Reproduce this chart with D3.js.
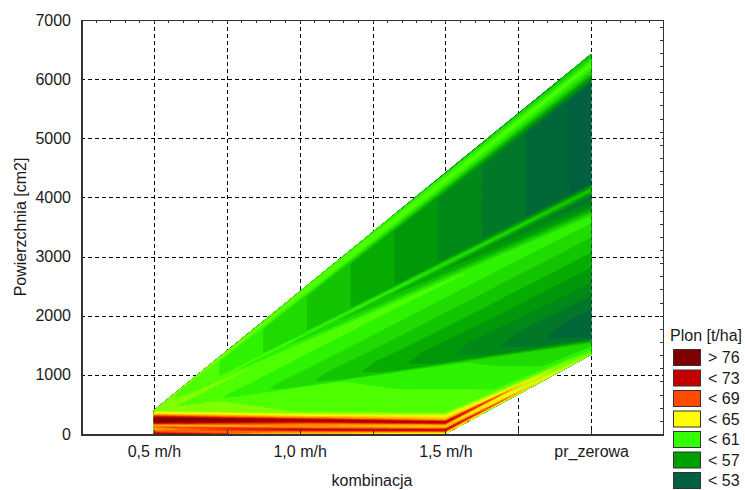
<!DOCTYPE html>
<html>
<head>
<meta charset="utf-8">
<title>Plon - kombinacja x powierzchnia</title>
<script src="https://cdn.jsdelivr.net/npm/d3@7"></script>
<style>
  body { margin: 0; background: #fff; }
  text { font-family: "Liberation Sans", Arial, sans-serif; font-size: 16px; fill: #1a1a1a; }
  .grid line { stroke: #000; stroke-dasharray: 4,3; shape-rendering: crispEdges; }
  .frame line { stroke: #333; shape-rendering: crispEdges; }
</style>
</head>
<body>
<svg id="chart" width="745" height="490"></svg>
<script>
// categories / ticks
var kombinacja = ["0,5 m/h", "1,0 m/h", "1,5 m/h", "pr_zerowa"];
var yTicks = [0, 1000, 2000, 3000, 4000, 5000, 6000, 7000];

// observations: powierzchnia [cm2] and plon [t/ha] for every kombinacja
var pow05 = [0, 30, 60, 85, 115, 150, 180, 215, 255, 290, 320, 355, 400];
var plon05 = [75, 68, 66, 64, 67, 64, 70, 77, 77, 71, 66, 63, 60.5];
var pow10 = [0, 40, 75, 110, 150, 190, 215, 245, 275, 320, 370];
var plon10 = [64, 66, 72, 66, 65, 68, 73, 72, 66, 63, 60];
var pow15 = [0, 35, 68, 100, 150, 197, 240, 300, 360];
var plon15 = [62, 65, 73, 65, 64, 73, 65, 63, 60];
var powZero = [1340, 1420, 1540, 1620, 1760, 2000, 2440, 2940, 3450, 3670, 3850, 4000, 4130, 4250, 4800, 5500, 5900, 6100, 6250, 6425];
var plonZero = [61, 59, 57, 52, 51, 51.5, 53.5, 55.5, 57.5, 58.5, 54, 52, 57, 50.5, 50.5, 50.5, 50.5, 57, 59.5, 56];

// legend
var legendLabels = ["> 76", "< 73", "< 69", "< 65", "< 61", "< 57", "< 53"];
var legendColors = ["#800000", "#c40000", "#ff4c00", "#ffff00", "#33ff00", "#00a000", "#006040"];
var colorStops = [75, 71, 67, 63, 59, 55, 51];
var levels = d3.range(44, 81, 1);

// how the surface is triangulated between the columns
var splitZero = 2;           // pr_zerowa point where the lower and upper fans meet
var fanStart = [0, 0, 0];    // where the tops of 1,5 / 1,0 / 0,5 m/h start their fans

var svg = d3.select("#chart");
var pL = 81, pR = 663, pT = 20, pB = 434;

var x = d3.scaleLinear().domain([-0.5, 3.5]).range([pL, 664]);
var y = d3.scaleLinear().domain([0, 7000]).range([pB, pT]);
var color = d3.scaleLinear().domain(colorStops).range(legendColors).clamp(true);

// grid
var grid = svg.append("g").attr("class", "grid");
grid.selectAll(".h").data(yTicks.slice(1, -1)).enter().append("line")
    .attr("x1", pL).attr("x2", pR)
    .attr("y1", function(d) { return Math.round(y(d)) + 0.5; })
    .attr("y2", function(d) { return Math.round(y(d)) + 0.5; });
grid.selectAll(".v").data(d3.range(0, 3.01, 0.5)).enter().append("line")
    .attr("y1", pT).attr("y2", pB)
    .attr("x1", function(d) { return Math.round(x(d)) + 0.5; })
    .attr("x2", function(d) { return Math.round(x(d)) + 0.5; });

// columns of points in screen space
var cols = [[0, pow05, plon05], [1, pow10, plon10], [2, pow15, plon15], [3, powZero, plonZero]].map(function(c) {
  return c[1].map(function(p, i) { return [x(c[0]), y(p), c[2][i]]; });
});
var pts = [].concat.apply([], cols);

function param(chain) {
  var a = chain[0][1], b = chain[chain.length - 1][1];
  return chain.map(function(p) { return (p[1] - a) / (b - a); });
}
var tris = [];
function strip(A, B, tA, tB) {
  var i = 0, j = 0;
  while (i < A.length - 1 || j < B.length - 1) {
    if (i < A.length - 1 && (j === B.length - 1 || tA[i + 1] <= tB[j + 1])) { tris.push([A[i], A[i + 1], B[j]]); i++; }
    else { tris.push([A[i], B[j], B[j + 1]]); j++; }
  }
}
strip(cols[0], cols[1], param(cols[0]), param(cols[1]));
strip(cols[1], cols[2], param(cols[1]), param(cols[2]));
var lower = cols[3].slice(0, splitZero + 1), upper = cols[3].slice(splitZero);
strip(cols[2], lower, param(cols[2]), param(lower));
var tops = [cols[2][cols[2].length - 1], cols[1][cols[1].length - 1], cols[0][cols[0].length - 1]];
strip(tops, upper, fanStart, param(upper));

var x0 = Math.floor(d3.min(pts, function(d) { return d[0]; })) - 1;
var x1 = Math.ceil(d3.max(pts, function(d) { return d[0]; })) + 1;
var y0 = Math.floor(d3.min(pts, function(d) { return d[1]; })) - 1;
var y1 = Math.ceil(d3.max(pts, function(d) { return d[1]; })) + 1;
var nx = x1 - x0, ny = y1 - y0;
var values = new Float64Array(nx * ny).fill(NaN);

// linear interpolation on the triangles
tris.forEach(function(tri) {
  var a = tri[0], b = tri[1], c = tri[2];
  var den = (b[1] - c[1]) * (a[0] - c[0]) + (c[0] - b[0]) * (a[1] - c[1]);
  if (Math.abs(den) < 1e-9) return;
  var i0 = Math.max(0, Math.floor(Math.min(a[0], b[0], c[0])) - x0 - 1);
  var i1 = Math.min(nx - 1, Math.ceil(Math.max(a[0], b[0], c[0])) - x0 + 1);
  var j0 = Math.max(0, Math.floor(Math.min(a[1], b[1], c[1])) - y0 - 1);
  var j1 = Math.min(ny - 1, Math.ceil(Math.max(a[1], b[1], c[1])) - y0 + 1);
  for (var j = j0; j <= j1; j++) {
    var py = y0 + j + 0.5;
    for (var i = i0; i <= i1; i++) {
      var px = x0 + i + 0.5;
      var w1 = ((b[1] - c[1]) * (px - c[0]) + (c[0] - b[0]) * (py - c[1])) / den;
      var w2 = ((c[1] - a[1]) * (px - c[0]) + (a[0] - c[0]) * (py - c[1])) / den;
      var w3 = 1 - w1 - w2;
      if (w1 >= -1e-6 && w2 >= -1e-6 && w3 >= -1e-6) values[j * nx + i] = w1 * a[2] + w2 * b[2] + w3 * c[2];
    }
  }
});
// outside the data: nearest point (hidden by the clip anyway)
var delaunay = d3.Delaunay.from(pts, function(d) { return d[0]; }, function(d) { return d[1]; });
var hint = 0;
for (var k = 0; k < values.length; k++) {
  if (isNaN(values[k])) {
    hint = delaunay.find(x0 + (k % nx) + 0.5, y0 + Math.floor(k / nx) + 0.5, hint);
    values[k] = pts[hint][2];
  }
}

var hull = d3.polygonHull(pts.map(function(p) { return [p[0], p[1]]; }));
svg.append("clipPath").attr("id", "hull").append("path")
    .attr("d", "M" + hull.map(function(p) { return p.join(","); }).join("L") + "Z");

var shift = d3.geoPath(d3.geoTransform({ point: function(px, py) { this.stream.point(x0 + px, y0 + py); } }));
var contours = d3.contours().size([nx, ny]).thresholds(levels)(values);

var area = svg.append("g").attr("clip-path", "url(#hull)");
area.append("rect").attr("x", x0).attr("y", y0).attr("width", nx).attr("height", ny)
    .attr("fill", color(levels[0] - 0.5));
area.selectAll("path").data(contours).enter().append("path")
    .attr("d", shift)
    .attr("fill", function(d) { return color(d.value + 0.5); });

// frame and ticks
var frame = svg.append("g").attr("class", "frame");
frame.append("line").attr("x1", pL + 0.5).attr("x2", pL + 0.5).attr("y1", pT).attr("y2", pB + 1).style("stroke-width", 2);
frame.append("line").attr("x1", pL).attr("x2", pR + 1).attr("y1", pB + 0.5).attr("y2", pB + 0.5).style("stroke-width", 2);
frame.append("line").attr("x1", pL).attr("x2", pR + 1).attr("y1", pT + 0.5).attr("y2", pT + 0.5);
frame.append("line").attr("x1", pR + 0.5).attr("x2", pR + 0.5).attr("y1", pT).attr("y2", pB + 1);
frame.selectAll(".tb").data(d3.range(-0.5, 3.45, 0.5)).enter().append("line")
    .attr("x1", function(d) { return Math.round(x(d)) + 0.5; }).attr("x2", function(d) { return Math.round(x(d)) + 0.5; })
    .attr("y1", pB).attr("y2", pB - 4);
frame.selectAll(".tt").data(d3.range(-0.4, 3.45, 0.1)).enter().append("line")
    .attr("x1", function(d) { return Math.round(x(d)) + 0.5; }).attr("x2", function(d) { return Math.round(x(d)) + 0.5; })
    .attr("y1", pT).attr("y2", pT + 3);
frame.selectAll(".tr").data(d3.range(2000 / 9, 7000, 2000 / 9)).enter().append("line")
    .attr("x1", pR).attr("x2", pR - 3)
    .attr("y1", function(d) { return Math.round(y(d)) + 0.5; }).attr("y2", function(d) { return Math.round(y(d)) + 0.5; });

// axis labels
var yAxis = svg.append("g").attr("transform", "translate(" + pL + ",0)")
    .call(d3.axisLeft(y).tickValues(yTicks).tickSize(0).tickPadding(10).tickFormat(d3.format("d")));
yAxis.select(".domain").remove();
var xAxis = svg.append("g").attr("transform", "translate(0," + pB + ")")
    .call(d3.axisBottom(x).tickValues([0, 1, 2, 3]).tickSize(0).tickPadding(12)
      .tickFormat(function(d) { return kombinacja[d]; }));
xAxis.select(".domain").remove();

svg.append("text").attr("x", (pL + pR) / 2).attr("y", 486).attr("text-anchor", "middle").text("kombinacja");
svg.append("text").attr("transform", "translate(26," + (pT + pB) / 2 + ") rotate(-90)")
    .attr("text-anchor", "middle").text("Powierzchnia [cm2]");

// legend
var legend = svg.append("g").attr("transform", "translate(670,0)");
legend.append("text").attr("x", 0).attr("y", 341).text("Plon [t/ha]");
var item = legend.selectAll(".item").data(legendLabels).enter().append("g")
    .attr("transform", function(d, i) { return "translate(0," + (349 + i * 20.5) + ")"; });
item.append("rect").attr("x", 3.5).attr("y", 0.5).attr("width", 27).attr("height", 16)
    .attr("fill", function(d, i) { return legendColors[i]; }).attr("stroke", "#333");
item.append("text").attr("x", 38).attr("y", 14).text(function(d) { return d; });
</script>
</body>
</html>
